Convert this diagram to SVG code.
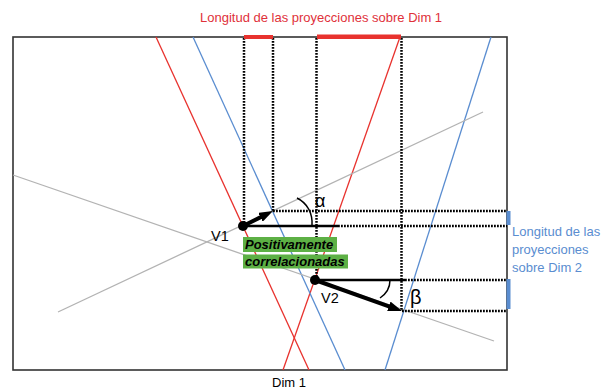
<svg xmlns="http://www.w3.org/2000/svg" width="602" height="389" viewBox="0 0 602 389">
<style>
.red{stroke:#e8322e;stroke-width:1.3;fill:none}
.blue{stroke:#5a8dd0;stroke-width:1.3;fill:none}
.gray{stroke:#b3b3b3;stroke-width:1.3;fill:none}
.dot{stroke:#000;stroke-width:2.5;stroke-dasharray:1.8 1.2;fill:none}
.solid{stroke:#000;stroke-width:2.5;fill:none}
.vec{stroke:#000;stroke-width:4;fill:none;marker-end:url(#ah)}
.t{font-family:"Liberation Sans",Arial,sans-serif;font-size:13px}
.tr{fill:#e0313a}
.tb{fill:#5a8dd0}
.gl{font-family:"Liberation Sans",Arial,sans-serif;font-size:13px;font-weight:bold;font-style:italic;fill:#000}
</style>
<defs>
<marker id="ah" viewBox="0 0 14 10" markerWidth="14" markerHeight="10" refX="6" refY="5" orient="auto" markerUnits="userSpaceOnUse">
<path d="M0,0 L14,5 L0,10 z" fill="#000"/>
</marker>
</defs>
<rect width="602" height="389" fill="#fff"/>
<g id="frame">
<rect x="13" y="37" width="494" height="333" fill="none" stroke="#333" stroke-width="1.6"/>
</g>
<g id="connectors">
<line class="red" x1="156" y1="37" x2="309" y2="370"/>
<line class="red" x1="400" y1="37" x2="283" y2="370"/>
<line class="blue" x1="193" y1="37" x2="345" y2="370"/>
<line class="blue" x1="491" y1="37" x2="385" y2="370"/>
<line class="gray" x1="13" y1="175" x2="494" y2="341"/>
<line class="gray" x1="58" y1="312" x2="483" y2="112"/>
<line class="dot" x1="244" y1="38" x2="244" y2="226"/>
<line class="dot" x1="273" y1="38" x2="273" y2="211"/>
<line class="dot" x1="316.5" y1="38" x2="316.5" y2="280"/>
<line class="dot" x1="401.5" y1="38" x2="401.5" y2="311"/>
<line class="dot" x1="273" y1="211" x2="507" y2="211"/>
<line class="dot" x1="338" y1="226" x2="507" y2="226"/>
<line class="dot" x1="405" y1="280" x2="507" y2="280"/>
<line class="dot" x1="402" y1="311" x2="507" y2="311"/>
<line class="solid" x1="243" y1="226" x2="338" y2="226"/>
<line class="solid" x1="315" y1="280" x2="405" y2="280"/>
<path d="M297 198 C307 203 313 213 312 226" fill="none" stroke="#000" stroke-width="1.5"/>
<path d="M390 280 C390 288 386 294 380 298" fill="none" stroke="#000" stroke-width="1.5"/>
<rect x="244" y="35" width="29" height="4" fill="#e8322e"/>
<rect x="317" y="34.5" width="84" height="4.5" fill="#e8322e"/>
<rect x="506.5" y="211" width="4" height="14" fill="#5a8dd0"/>
<rect x="506.5" y="279" width="4" height="30" fill="#5a8dd0"/>
</g>
<g id="V1">
<line class="vec" x1="243" y1="226" x2="265.8" y2="214.6"/>
<circle cx="243" cy="226" r="5" fill="#000"/>
<text class="t" x="211" y="241" fill="#000" style="font-size:14.5px">V1</text>
<text class="t" x="315" y="207" fill="#000" style="font-size:18px">α</text>
</g>
<g id="V2">
<line class="vec" x1="315" y1="280" x2="394.5" y2="308.3"/>
<circle cx="315" cy="280" r="5" fill="#000"/>
<text class="t" x="321" y="303" fill="#000" style="font-size:14.5px">V2</text>
<text class="t" x="410" y="304" fill="#000" style="font-size:20px">β</text>
</g>
<g id="label-correlation">
<rect x="243" y="237" width="94" height="15" fill="#5db045"/>
<rect x="243" y="254.5" width="105" height="14" fill="#5db045"/>
<text class="gl" x="245" y="249">Positivamente</text>
<text class="gl" x="245" y="266">correlacionadas</text>
</g>
<g id="label-dim1">
<text class="t tr" x="200" y="22">Longitud de las proyecciones sobre Dim 1</text>
</g>
<g id="label-dim2">
<text class="t tb" x="512" y="236">Longitud de las</text>
<text class="t tb" x="512" y="254">proyecciones</text>
<text class="t tb" x="512" y="272">sobre Dim 2</text>
</g>
<g id="axis-label">
<text class="t" x="272" y="387" fill="#000">Dim 1</text>
</g>
</svg>
